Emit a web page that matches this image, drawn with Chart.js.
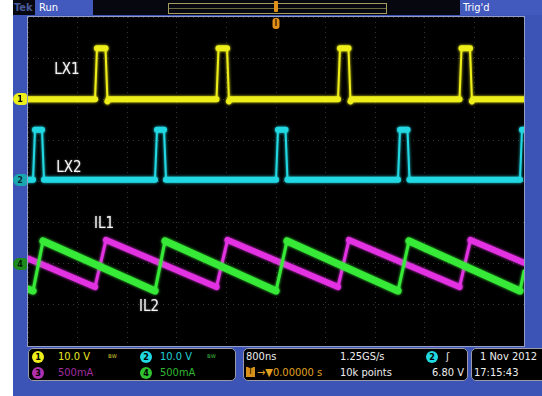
<!DOCTYPE html>
<html><head><meta charset="utf-8">
<script src="https://cdn.jsdelivr.net/npm/chart.js@4.4.1/dist/chart.umd.min.js"></script>
<style>
html,body{margin:0;padding:0;background:#fff;}
#scope{position:relative;width:542px;height:396px;overflow:hidden;background:#fff;font-family:"DejaVu Sans Condensed","DejaVu Sans",sans-serif;}
#frame{position:absolute;left:13px;top:0;width:529px;height:396px;background:#3c54b6;}
#topbar{position:absolute;left:13px;top:0;width:529px;height:15px;background:#07080f;}
.abs{position:absolute;white-space:nowrap;}
#tek{left:14px;top:0;height:15px;line-height:15px;font-size:11px;font-weight:bold;color:#4a5a9a;}
#run{left:35px;top:0;width:58px;height:15px;background:#4259bd;color:#fff;font-size:11px;line-height:15px;text-indent:4px;}
#rec{left:168px;top:3px;width:217px;height:9px;border:1px solid #a49c5c;}
#recline{left:169px;top:8px;width:217px;height:1px;background:#6d6a40;}
#trigT{left:274px;top:1px;width:4px;height:11px;background:#e2901a;border-radius:1px;}
#trigd{left:460px;top:0;width:82px;height:15px;background:#4259bd;color:#fff;font-size:11px;line-height:15px;text-indent:3px;}
canvas{position:absolute;left:0;top:0;}
.box{position:absolute;top:348px;height:31px;background:#000;border:1px solid #9a9aa8;border-radius:5px;}
.t{position:absolute;font-size:11px;line-height:12px;white-space:nowrap;}
.dot{position:absolute;width:12px;height:12px;border-radius:6px;font-size:9px;line-height:12px;text-align:center;color:#000;font-weight:bold;}
.lbl{position:absolute;color:#f4f4f4;font-family:"DejaVu Sans Condensed","DejaVu Sans",sans-serif;font-size:15px;line-height:15px;white-space:nowrap;transform:translate(-50%,-50%);z-index:3;text-shadow:0 0 2px rgba(255,255,255,0.5);}
.tag{position:absolute;left:13px;width:14px;height:12px;border-radius:6px 3px 3px 6px;font-size:9px;line-height:12px;text-align:center;font-weight:bold;z-index:3;}
</style></head>
<body>
<div id="scope">
  <div id="frame"></div>
  <div id="topbar"></div>
  <div class="abs" id="tek">Tek</div>
  <div class="abs" id="run">Run</div>
  <div class="abs" id="rec"></div>
  <div class="abs" id="recline"></div>
  <div class="abs" id="trigT"></div>
  <div class="abs" id="trigd">Trig'd</div>

  <div class="box" style="left:28px;width:206px;"></div>
  <div class="box" style="left:243px;width:223px;"></div>
  <div class="box" style="left:471px;width:80px;"></div>

  <div class="dot" style="left:32px;top:351px;background:#eeee1a;">1</div>
  <div class="t" style="left:58px;top:351px;color:#e8e820;">10.0 V</div>
  <div class="t" style="left:108px;top:350px;color:#c8c030;font-size:7px;">ʙw</div>
  <div class="dot" style="left:140px;top:351px;background:#20d8e0;">2</div>
  <div class="t" style="left:160px;top:351px;color:#20d0d8;">10.0 V</div>
  <div class="t" style="left:207px;top:350px;color:#3ab040;font-size:7px;">ʙw</div>
  <div class="dot" style="left:32px;top:367px;background:#b030b0;">3</div>
  <div class="t" style="left:58px;top:367px;color:#a02ca0;">500mA</div>
  <div class="dot" style="left:140px;top:367px;background:#30c030;">4</div>
  <div class="t" style="left:160px;top:367px;color:#30b830;">500mA</div>

  <div class="t" style="left:246px;top:351px;color:#eee;">800ns</div>
  <div class="t" style="left:340px;top:351px;color:#eee;">1.25GS/s</div>
  <div class="dot" style="left:426px;top:351px;background:#20d8e0;">2</div>
  <div class="t" style="left:446px;top:351px;color:#eee;">ʃ</div>
  <div class="t" style="left:246px;top:367px;width:9px;height:10px;background:#d89018;color:#000;font-size:8px;line-height:10px;text-align:center;">T</div>
  <div class="t" style="left:257px;top:367px;color:#e0a020;">→▼0.00000 s</div>
  <div class="t" style="left:340px;top:367px;color:#eee;">10k points</div>
  <div class="t" style="left:430px;top:367px;color:#eee;width:34px;text-align:right;">6.80 V</div>

  <div class="t" style="left:480px;top:351px;color:#eee;">1 Nov 2012</div>
  <div class="t" style="left:474px;top:367px;color:#eee;">17:15:43</div>

  <canvas id="c" width="542" height="396"></canvas>
</div>
<script>
// ---- scope settings ----
const NS_PER_DIV = 800;
const LX1_VOLTS_PER_DIV = 10, LX2_VOLTS_PER_DIV = 10;
const IL1_MA_PER_DIV = 500, IL2_MA_PER_DIV = 500;
const LX1_POS_DIV = 2.0, LX2_POS_DIV = 0.04, IL1_POS_DIV = -2.0, IL2_POS_DIV = -2.0;

// ---- waveforms (time in ns, relative to trigger) ----
const LX1_T = [-4000,-2919,-2887,-2750,-2718,-2700,-960,-927,-790,-758,-740,1000,1032,1169,1202,1220,2960,2992,3129,3161,3180,4000];
const LX1_V = [0,0,12.4,12.4,-0.5,0,0,12.4,12.4,-0.5,0,0,12.4,12.4,-0.5,0,0,12.4,12.4,-0.5,0,0];

const LX2_T = [-4000,-3919,-3887,-3774,-3742,-1952,-1919,-1806,-1774,0,32,153,185,1968,2000,2121,2153,3935,3968,4000];
const LX2_V = [0,0,12.2,12.2,0,0,12.2,12.2,0,0,12.2,12.2,0,0,12.2,12.2,0,0,12.2,12.2];

const IL1_T  = [-4000,-2919,-2742,-960,-782,1000,1177,2960,3137,4000];
const IL1_MA = [64,-283,289,-283,289,-283,289,-283,289,13];

const IL2_T  = [-4000,-3919,-3758,-1952,-1790,0,177,1968,2145,3935,4000];
const IL2_MA = [-307,-331,277,-331,277,-331,277,-331,277,-331,-88];

// ---- on-screen annotations ----
const LABEL_TEXT = ['LX1','LX2','IL1','IL2'];
const LABEL_T    = [-3371,-3339,-2774,-2048];
const LABEL_DIV  = [2.74,0.35,-1.01,-3.03];

function toPts(ts, vs, pos, scale){ return ts.map((t,i)=>({x:t, y:pos + vs[i]/scale})); }

const steep = (ctx) => Math.abs(ctx.p1.y - ctx.p0.y) > 3*Math.abs(ctx.p1.x - ctx.p0.x);
const noClip = {left:0,top:0,right:0,bottom:0};

const scopePlugin = {
  id:'scopePlugin',
  beforeDraw(chart){
    const {ctx, chartArea:a} = chart;
    ctx.save(); ctx.fillStyle='#000';
    ctx.fillRect(a.left, a.top, a.right-a.left, a.bottom-a.top);
    ctx.restore();
  },
  beforeDatasetDraw(chart, args){
    const ctx = chart.ctx;
    ctx.save();
    ctx.shadowColor = chart.data.datasets[args.index].borderColor;
    ctx.shadowBlur = 3;
  },
  afterDatasetDraw(chart){ chart.ctx.restore(); },
  afterDraw(chart){
    const {ctx, chartArea:a, scales} = chart;
    ctx.save();
    ctx.strokeStyle='rgba(170,175,200,0.8)'; ctx.lineWidth=1;
    ctx.strokeRect(a.left-0.5, a.top-0.5, a.right-a.left+1, a.bottom-a.top+1);
    const tx = scales.x.getPixelForValue(0);
    ctx.fillStyle='#e2901a';
    ctx.beginPath();
    ctx.roundRect(tx-3.5, a.top+1, 7, 11, 3);
    ctx.fill();
    ctx.fillStyle='#5a3000';
    ctx.fillRect(tx-0.8, a.top+2, 1.6, 7);
    ctx.restore();
  }
};

const common = {pointRadius:0, tension:0, fill:false, clip:noClip, borderCapStyle:'round', borderJoinStyle:'round'};

const chart = new Chart(document.getElementById('c'), {
  type:'line',
  data:{ datasets:[
    Object.assign({label:'LX1', data:toPts(LX1_T,LX1_V,LX1_POS_DIV,LX1_VOLTS_PER_DIV), borderColor:'#eeee1a', borderWidth:6,
      segment:{borderWidth:c=>steep(c)?2:6}}, common),
    Object.assign({label:'LX2', data:toPts(LX2_T,LX2_V,LX2_POS_DIV,LX2_VOLTS_PER_DIV), borderColor:'#22d8e2', borderWidth:6,
      segment:{borderWidth:c=>steep(c)?2:6}}, common),
    Object.assign({label:'IL2', data:toPts(IL2_T,IL2_MA,IL2_POS_DIV,IL2_MA_PER_DIV), borderColor:'#38ea38', borderWidth:7,
      segment:{borderWidth:c=>steep(c)?3:7}}, common),
    Object.assign({label:'IL1', data:toPts(IL1_T,IL1_MA,IL1_POS_DIV,IL1_MA_PER_DIV), borderColor:'#e232e2', borderWidth:6,
      segment:{borderWidth:c=>steep(c)?3:6}}, common)
  ]},
  options:{
    responsive:false, animation:false, devicePixelRatio:1, events:[],
    layout:{padding:{left:28, top:17, right:18, bottom:50}},
    plugins:{legend:{display:false}, tooltip:{enabled:false}},
    scales:{
      x:{type:'linear', min:-5*NS_PER_DIV, max:5*NS_PER_DIV,
         ticks:{display:false, stepSize:NS_PER_DIV},
         border:{display:false, dash:[1,4]},
         grid:{drawTicks:false, color:'rgba(105,105,105,0.5)', lineWidth:1}},
      y:{type:'linear', min:-4, max:4,
         ticks:{display:false, stepSize:1},
         border:{display:false, dash:[1,4]},
         grid:{drawTicks:false, color:'rgba(105,105,105,0.5)', lineWidth:1}}
    }
  },
  plugins:[scopePlugin]
});

const scope = document.getElementById('scope');
const sx = chart.scales.x, sy = chart.scales.y;
LABEL_TEXT.forEach((txt,i)=>{
  const d = document.createElement('div');
  d.className='lbl'; d.textContent=txt;
  d.style.left = sx.getPixelForValue(LABEL_T[i]) + 'px';
  d.style.top  = sy.getPixelForValue(LABEL_DIV[i]) + 'px';
  scope.appendChild(d);
});
const TAGS = [['1',LX1_POS_DIV,'#eeee1a','#000'],['2',LX2_POS_DIV,'#1aa8b0','#0a2a30'],['4',IL2_POS_DIV,'#1d8a1d','#001800']];
TAGS.forEach(([n,pos,bg,fg])=>{
  const d=document.createElement('div');
  d.className='tag'; d.textContent=n;
  d.style.top=(sy.getPixelForValue(pos)-6)+'px';
  d.style.background=bg; d.style.color=fg;
  scope.appendChild(d);
});
</script>
</body></html>
